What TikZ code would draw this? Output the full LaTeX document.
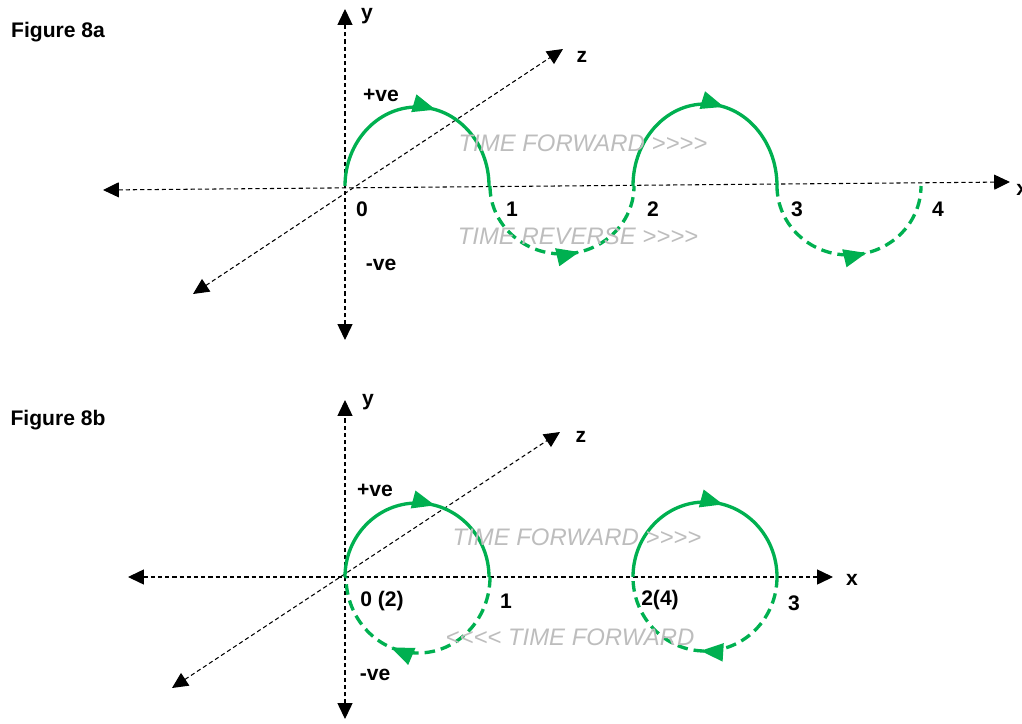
\documentclass[tikz,border=0pt]{standalone}
\usepackage{fontspec}
\setmainfont{Liberation Sans}
\usepackage{xcolor}
\usetikzlibrary{arrows.meta,decorations.markings}
\definecolor{WaveGreen}{HTML}{00B050}
\definecolor{TimeGrey}{HTML}{BDBDBD}

\begin{document}
\begin{tikzpicture}[x=0.02cm, y=0.02cm,
  axis/.style={black, line width=0.6pt, dash pattern=on 2.4pt off 1.7pt,
               {Triangle[length=9pt,width=8.5pt]}-{Triangle[length=9pt,width=8.5pt]}},
  lbl/.style={font=\fontsize{12}{14}\selectfont\bfseries, inner sep=0pt},
  timetxt/.style={font=\fontsize{13.6}{16}\selectfont\itshape, text=TimeGrey, inner sep=0pt},
  wave/.style={WaveGreen, line width=1.9pt},
  back/.style={wave, dash pattern=on 6pt off 3.4pt},
  tipat/.style={postaction={decorate, decoration={markings,
               mark=at position #1 with {\arrow{Triangle[length=13pt,width=10pt]}}}}}]
\useasboundingbox (0,0) rectangle (1022,-724);
%% Figure 8a: axes
\coordinate (ya1) at (345,-340); \coordinate (ya2) at (345,-9);
\coordinate (xa1) at (103,-190); \coordinate (xa2) at (1010,-182);
\coordinate (za1) at (193,-294); \coordinate (za2) at (563,-49);
\draw[axis] (ya1) -- (ya2);
\draw[axis] (xa1) -- (xa2);
\draw[axis] (za1) -- (za2);
%% Figure 8a: wave, solid above and dashed below
\draw[wave, tipat=0.58] (345,-186) arc[start angle=180, end angle=0, x radius=72, y radius=79];
\draw[back, tipat=0.58] (490,-186) arc[start angle=180, end angle=360, x radius=72, y radius=68];
\draw[wave, tipat=0.58] (633,-186) arc[start angle=180, end angle=0, x radius=72, y radius=82];
\draw[back, tipat=0.58] (777,-186) arc[start angle=180, end angle=360, x radius=72, y radius=69];
\node[lbl] (fig8a) at (58,-32) {Figure 8a};
\node[lbl] (ylbla) at (367,-16) {y};
\node[lbl] (zlbla) at (582,-57) {z};
\node[lbl, anchor=west] (xlbla) at (1016,-190) {x};
\node[lbl] (posa) at (381,-95) {+ve};
\node[lbl] (nega) at (381,-265) {-ve};
\foreach \px/\t [count=\i] in {362/0, 512/1, 653/2, 797/3, 938/4}
  \node[lbl] (numa\i) at (\px,-209) {\t};
\node[timetxt] (fwda) at (583,-143) {TIME FORWARD >{}>{}>{}>};
\node[timetxt] (reva) at (578,-236) {TIME REVERSE >{}>{}>{}>};
%% Figure 8b: axes
\coordinate (yb1) at (345,-719); \coordinate (yb2) at (345,-400);
\coordinate (xb1) at (128,-577); \coordinate (xb2) at (833,-577);
\coordinate (zb1) at (172,-688); \coordinate (zb2) at (560,-432);
\draw[axis] (yb1) -- (yb2);
\draw[axis] (xb1) -- (xb2);
\draw[axis] (zb1) -- (zb2);
%% Figure 8b: two closed loops, lower halves run backwards
\draw[wave, tipat=0.58] (345,-577) arc[start angle=180, end angle=0, x radius=72, y radius=74];
\draw[back, tipat=0.62] (490,-577) arc[start angle=0, end angle=-180, x radius=72, y radius=76];
\draw[wave, tipat=0.58] (633,-577) arc[start angle=180, end angle=0, x radius=72, y radius=75];
\draw[back, tipat=0.52] (777,-577) arc[start angle=0, end angle=-180, x radius=72, y radius=74];
\node[lbl] (fig8b) at (58,-420) {Figure 8b};
\node[lbl] (ylblb) at (368,-402) {y};
\node[lbl] (zlblb) at (581,-437) {z};
\node[lbl] (xlblb) at (852,-580) {x};
\node[lbl] (posb) at (375,-490) {+ve};
\node[lbl] (negb) at (375,-675) {-ve};
\foreach \px/\py/\t [count=\i] in {382/601/0 (2), 506/601/1, 660/600/2(4), 794/603/3}
  \node[lbl] (numb\i) at (\px,-\py) {\t};
\node[timetxt] (fwdb) at (577,-537) {TIME FORWARD >{}>{}>{}>};
\node[timetxt] (backb) at (570,-637) {<{}<{}<{}< TIME FORWARD};
\end{tikzpicture}
\end{document}
